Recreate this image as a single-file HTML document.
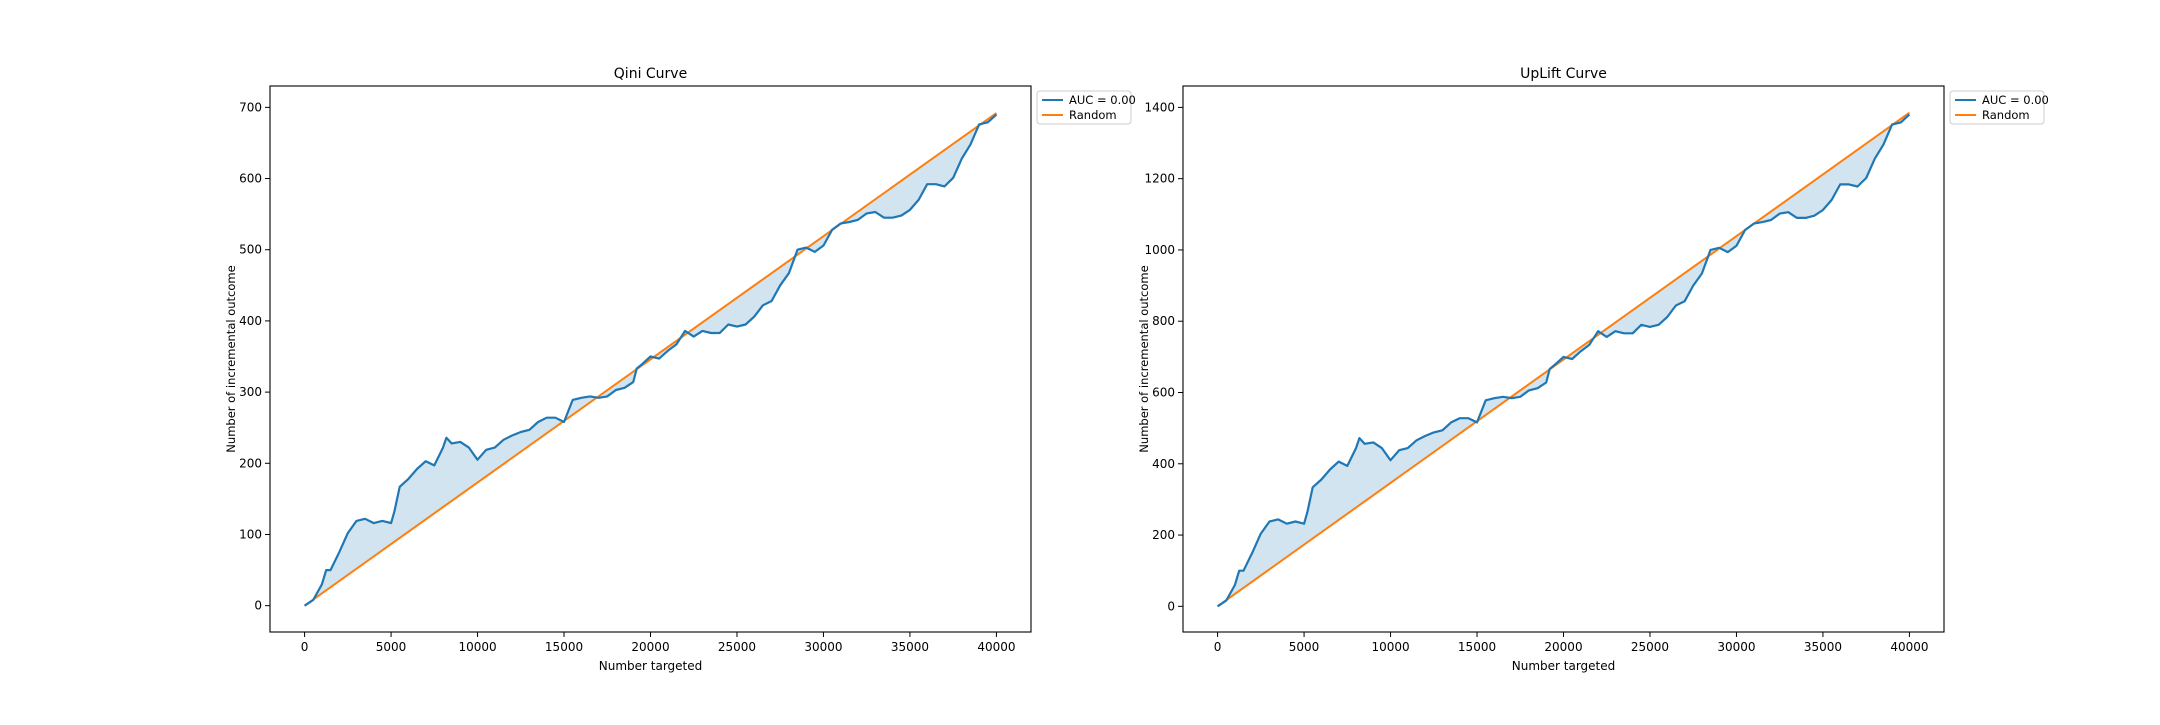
<!DOCTYPE html>
<html><head><meta charset="utf-8"><style>
html,body{margin:0;padding:0;background:#fff;}
svg text{font-family:"DejaVu Sans","Liberation Sans",sans-serif;fill:#000;}
</style></head><body>
<svg id="fig" width="2160" height="720" xmlns="http://www.w3.org/2000/svg"></svg>
<script>
const xs = [0,500,1000,1250,1500,2000,2500,3000,3500,4000,4500,5000,5200,5500,6000,6500,7000,7500,8000,8200,8500,9000,9500,10000,10500,11000,11500,12000,12500,13000,13500,14000,14500,15000,15500,16000,16500,17000,17500,18000,18500,19000,19200,19500,20000,20500,21000,21500,22000,22500,23000,23500,24000,24500,25000,25500,26000,26500,27000,27500,28000,28500,29000,29500,30000,30500,31000,31500,32000,32500,33000,33500,34000,34500,35000,35500,36000,36500,37000,37500,38000,38500,39000,39500,40000];
const qiniVals = [0,8,30,50,50,75,102,119,122,116,119,116,133,167,178,192,203,197,222,236,228,230,222,205,219,222,233,239,244,247,258,264,264,258,289,292,294,292,294,303,306,314,333,339,350,347,358,367,386,378,386,383,383,395,392,395,406,422,428,450,467,500,503,497,506,528,537,539,542,551,553,545,545,548,556,570,592,592,589,601,628,648,676,679,690];
const upliftVals = [0,16,60,100,100,150,204,238,244,232,238,232,266,334,356,384,406,394,444,472,456,460,444,410,438,444,466,478,488,494,516,528,528,516,578,584,588,584,588,606,612,628,666,678,700,694,716,734,772,756,772,766,766,790,784,790,812,844,856,900,934,1000,1006,994,1012,1056,1074,1078,1084,1102,1106,1090,1090,1096,1112,1140,1184,1184,1178,1202,1256,1296,1352,1358,1380];
const qiniRandomEnd = 692;
const upliftRandomEnd = 1385;
const xTicks = [0,5000,10000,15000,20000,25000,30000,35000,40000];
const qiniYTicks = [0,100,200,300,400,500,600,700];
const upliftYTicks = [0,200,400,600,800,1000,1200,1400];

const NS = "http://www.w3.org/2000/svg";
const svg = document.getElementById('fig');
function mk(tag, attrs, parent){
  const e = document.createElementNS(NS, tag);
  for (const k in attrs) e.setAttribute(k, attrs[k]);
  (parent||svg).appendChild(e); return e;
}
function drawChart(prefix, title, L, R, T, B, ymin, ymax, ys, yTicks, randEnd){
  const g = mk('g', {});
  
  
  const xmin = -2000, xmax = 42000;
  const sx = v => L + (v - xmin) / (xmax - xmin) * (R - L);
  const sy = v => B - (v - ymin) / (ymax - ymin) * (B - T);
  let d = '';
  xs.forEach((x,i)=>{ d += (i?'L':'M') + sx(x).toFixed(1) + ',' + sy(ys[i]).toFixed(1); });
  for (let i = xs.length-1; i >= 0; i--) d += 'L' + sx(xs[i]).toFixed(1) + ',' + sy(randEnd*xs[i]/40000).toFixed(1);
  d += 'Z';
  const fill = mk('path', {d:d, fill:'#1f77b4', 'fill-opacity':'0.2', stroke:'none'}, g);
  
  
  const rl = mk('line', {x1:sx(0), y1:sy(0), x2:sx(40000), y2:sy(randEnd), stroke:'#ff7f0e', 'stroke-width':2}, g);
  
  
  let pd = '';
  xs.forEach((x,i)=>{ pd += (i?'L':'M') + sx(x).toFixed(1) + ',' + sy(ys[i]).toFixed(1); });
  const cl = mk('path', {d:pd, fill:'none', stroke:'#1f77b4', 'stroke-width':2.2, 'stroke-linejoin':'round'}, g);
  
  
  const fr = mk('rect', {x:L, y:T, width:R-L, height:B-T, fill:'none', stroke:'#000', 'stroke-width':1.1}, g);
  
  
  xTicks.forEach(v=>{
    const x = sx(v);
    mk('line', {x1:x, y1:B, x2:x, y2:B+5, stroke:'#000', 'stroke-width':1}, g);
    const t = mk('text', {x:x, y:B+19, 'font-size':12, 'text-anchor':'middle'}, g);
    t.textContent = v;
    
    
  });
  yTicks.forEach(v=>{
    const y = sy(v);
    mk('line', {x1:L-5, y1:y, x2:L, y2:y, stroke:'#000', 'stroke-width':1}, g);
    const t = mk('text', {x:L-8, y:y+4, 'font-size':12, 'text-anchor':'end'}, g);
    t.textContent = v;
    
    
  });
  const tt = mk('text', {x:(L+R)/2, y:T-8, 'font-size':14, 'text-anchor':'middle'}, g);
  tt.textContent = title;
  
  
  const xl = mk('text', {x:(L+R)/2, y:B+38, 'font-size':12, 'text-anchor':'middle'}, g);
  xl.textContent = 'Number targeted';
  
  
  const yl = mk('text', {x:0, y:0, 'font-size':11.5, 'text-anchor':'middle', transform:'translate('+(L-35)+','+((T+B)/2)+') rotate(-90)'}, g);
  yl.textContent = 'Number of incremental outcome';
  
  
  const lg = mk('g', {}, g);
  
  
  mk('rect', {x:R+6, y:T+5, width:94, height:33, rx:3, fill:'#fff', stroke:'#ccc'}, lg);
  mk('line', {x1:R+11, y1:T+14, x2:R+32, y2:T+14, stroke:'#1f77b4', 'stroke-width':2}, lg);
  const l1 = mk('text', {x:R+38, y:T+18, 'font-size':11.5}, lg);
  l1.textContent = 'AUC = 0.00';
  
  
  mk('line', {x1:R+11, y1:T+29, x2:R+32, y2:T+29, stroke:'#ff7f0e', 'stroke-width':2}, lg);
  const l2 = mk('text', {x:R+38, y:T+33, 'font-size':11.5}, lg);
  l2.textContent = 'Random';
  
  
}
drawChart('qini', 'Qini Curve', 270, 1031, 86, 632, -37, 730, qiniVals, qiniYTicks, qiniRandomEnd);
drawChart('uplift', 'UpLift Curve', 1183, 1944, 86, 632, -72, 1460, upliftVals, upliftYTicks, upliftRandomEnd);
</script>
</body></html>
